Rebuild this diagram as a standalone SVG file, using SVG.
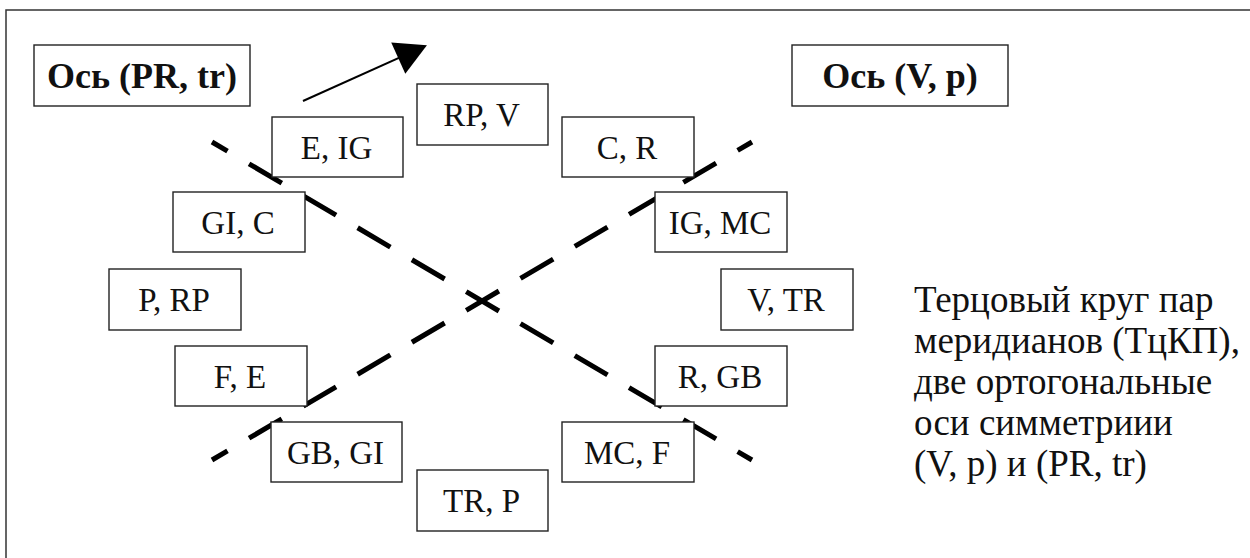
<svg xmlns="http://www.w3.org/2000/svg" width="1250" height="558" viewBox="0 0 1250 558">
<style>
.box{fill:#fff;stroke:#222;stroke-width:1.4}
.t{font-family:"Liberation Serif","Times New Roman",serif;font-size:33px;fill:#111;text-anchor:middle}
.b{font-weight:bold;font-size:36px}
.p{font-family:"Liberation Serif","Times New Roman",serif;font-size:37px;fill:#111}
.dash{stroke:#000;stroke-width:5;fill:none;stroke-dasharray:38 25;stroke-dashoffset:20}
</style>
<defs>
<marker id="ah" markerUnits="userSpaceOnUse" markerWidth="40" markerHeight="40" viewBox="-2 -14 28 28" refX="12" refY="0" orient="auto">
<path d="M0,-12 L22,0 L0,12 z" fill="#000"/>
</marker>
</defs>
<rect width="1250" height="558" fill="#fff"/>
<path d="M6,558 V10 H1250" fill="none" stroke="#333" stroke-width="1.5"/>
<g id="connectors">
<line class="dash" x1="212" y1="142" x2="752" y2="460"/>
<line class="dash" x1="212" y1="460" x2="752" y2="142"/>
<line x1="303" y1="101" x2="413.9" y2="51.1" stroke="#000" stroke-width="2" marker-end="url(#ah)"/>
</g>
<g id="axis-pr-tr"><rect class="box" x="34" y="45" width="216" height="61"/><text class="t b" x="142" y="88">Ось (PR, tr)</text></g>
<g id="axis-v-p"><rect class="box" x="792" y="45" width="216" height="61"/><text class="t b" x="900" y="88">Ось (V, p)</text></g>
<g id="n-e-ig"><rect class="box" x="272" y="117" width="131" height="60"/><text class="t" x="336.5" y="159">E, IG</text></g>
<g id="n-rp-v"><rect class="box" x="417" y="84" width="131" height="61"/><text class="t" x="481.5" y="126">RP, V</text></g>
<g id="n-c-r"><rect class="box" x="562" y="117" width="132" height="60"/><text class="t" x="627" y="159">C, R</text></g>
<g id="n-gi-c"><rect class="box" x="173" y="192" width="132" height="60"/><text class="t" x="238" y="234">GI, C</text></g>
<g id="n-ig-mc"><rect class="box" x="655" y="192" width="132" height="60"/><text class="t" x="720" y="234">IG, MC</text></g>
<g id="n-p-rp"><rect class="box" x="109" y="269" width="132" height="61"/><text class="t" x="174" y="311">P, RP</text></g>
<g id="n-v-tr"><rect class="box" x="721" y="269" width="132" height="61"/><text class="t" x="786" y="311">V, TR</text></g>
<g id="n-f-e"><rect class="box" x="175" y="346" width="132" height="60"/><text class="t" x="240" y="388">F, E</text></g>
<g id="n-r-gb"><rect class="box" x="655" y="346" width="132" height="60"/><text class="t" x="720" y="388">R, GB</text></g>
<g id="n-gb-gi"><rect class="box" x="271" y="422" width="131" height="60"/><text class="t" x="335.5" y="464">GB, GI</text></g>
<g id="n-mc-f"><rect class="box" x="562" y="422" width="132" height="60"/><text class="t" x="627" y="464">MC, F</text></g>
<g id="n-tr-p"><rect class="box" x="417" y="470" width="131" height="61"/><text class="t" x="481.5" y="512">TR, P</text></g>
<g id="caption"><text class="p">
<tspan x="914" y="312">Терцовый круг пар</tspan>
<tspan x="914" y="353">меридианов (ТцКП),</tspan>
<tspan x="914" y="394">две ортогональные</tspan>
<tspan x="914" y="435">оси симметриии</tspan>
<tspan x="914" y="476">(V, p) и (PR, tr)</tspan>
</text></g>
</svg>
